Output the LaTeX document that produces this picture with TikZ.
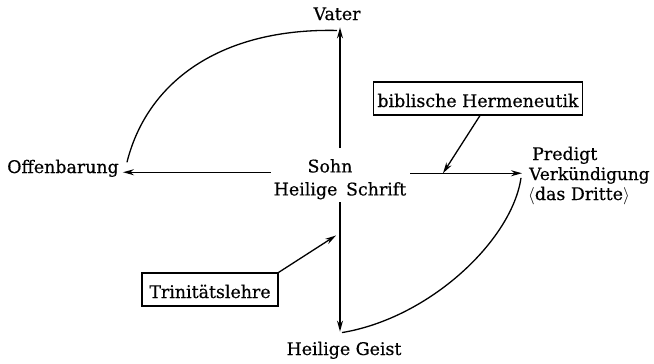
\documentclass[tikz,border=0pt]{standalone}
\usepackage{fontspec}
\setmainfont{DejaVu Serif}[FakeBold=0.5]
\usetikzlibrary{arrows.meta,calc}
\begin{document}
\begin{tikzpicture}[x=1pt,y=-1pt,
  lbl/.style={inner sep=0pt, font=\fontsize{17.4}{23}\selectfont},
  boxed/.style={draw, line width=1.1pt, inner xsep=4pt, inner ysep=5pt,
    text height=20pt, text depth=3pt, font=\fontsize{17.4}{20}\selectfont},
  arr/.style={line width=1.3pt, -{Stealth[length=11pt,width=6pt]}},
  link/.style={line width=1.3pt}]
\useasboundingbox (0,0) rectangle (654,364);

% labels
\node[lbl, anchor=base] (vater) at (337,20) {Vater};
\node[lbl, anchor=base] (offen) at (63,173) {Offenbarung};
\node[lbl, anchor=north, align=center] (sohn) at (340,159) {Sohn\hspace*{20pt}\\Heilige\hspace{0.5em}Schrift};
\node[lbl, anchor=base west] (predigt) at (532,160) {Predigt};
\node[lbl, anchor=base west, font=\fontsize{16.9}{23}\selectfont] (verk) at (529,180) {Verkündigung};
\node[lbl, anchor=base west] (dritte) at (528,200) {$\langle$das Dritte$\rangle$};
\node[lbl, anchor=base] (geist) at (344,355) {Heilige Geist};

% boxed notes
\node[boxed, anchor=base, minimum width=208pt] (herm) at (478,107) {biblische Hermeneutik};
\node[boxed, anchor=base, minimum width=136pt] (trin) at (210,298) {Trinitätslehre};

% tips of the four main arrows
\coordinate (vtip) at ($(sohn.north |- vater.south)+(0,7)$);
\coordinate (otip) at ($(offen.east |- sohn.west)+(4,-7)$);
\coordinate (ptip) at ($(verk.west |- sohn.east)+(-7,-6)$);
\coordinate (gtip) at ($(sohn.south |- geist.north)+(0,-10)$);

% the cross
\draw[arr] ($(sohn.north)+(0,-11)$) -- (vtip);
\draw[arr] ($(sohn.west)+(-3,-7)$) -- (otip);
\draw[arr] ($(sohn.east)+(4,-6)$) -- (ptip);
\draw[arr] ($(sohn.south)+(0,3)$) -- (gtip);

% the two arcs
\draw[link] ($(offen.east)+(8,-6)$) .. controls (147,82) and (220,28) .. ($(vtip)+(-3,3)$);
\draw[link] ($(verk.west)+(-8,2.5)$) .. controls (512,240) and (430,318) .. ($(gtip)+(2,1)$);

% notes pointing onto the cross
\coordinate (hm) at ($(ptip)+(-79,0)$);
\coordinate (tm) at ($(sohn.south)+(-4,36)$);
\draw[arr] ($(herm.south)+(2,0)$) -- (hm);
\draw[arr] (trin.north east) -- (tm);
\end{tikzpicture}
\end{document}
